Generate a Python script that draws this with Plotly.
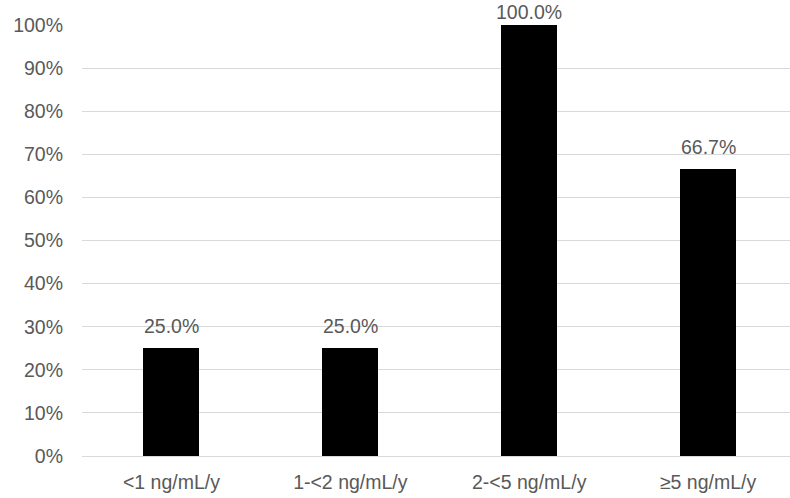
import plotly.graph_objects as go

categories = ["<1 ng/mL/y", "1-<2 ng/mL/y", "2-<5 ng/mL/y", "≥5 ng/mL/y"]
values = [25.0, 25.0, 100.0, 66.7]
y_ticks = [0, 10, 20, 30, 40, 50, 60, 70, 80, 90, 100]
y_tick_labels = [f"{v}%" for v in y_ticks]

FONT = "Arial, Liberation Sans, sans-serif"
GRAY = "#595959"

fig = go.Figure()
fig.add_trace(go.Bar(
    x=list(range(len(categories))),
    y=values,
    marker=dict(color="#000000", line=dict(width=0)),
    width=0.313,
    hoverinfo="skip",
))

for i, v in enumerate(values):
    fig.add_annotation(
        x=i, y=v, text=f"{v:.1f}%", showarrow=False,
        yanchor="bottom", yshift=(0 if v >= 95 else 9),
        font=dict(family=FONT, size=19.5, color=GRAY),
    )

fig.update_layout(
    width=790, height=498,
    margin=dict(l=82, r=0, t=25, b=42),
    paper_bgcolor="white", plot_bgcolor="white",
    showlegend=False,
    font=dict(family=FONT, size=19.5, color=GRAY),
    bargap=0,
)
fig.update_xaxes(
    tickmode="array", tickvals=list(range(len(categories))), ticktext=categories,
    range=[-0.5, 3.458], showgrid=False, zeroline=False,
    showline=False, ticks="", ticklabelstandoff=12,
    tickfont=dict(family=FONT, size=19.5, color=GRAY),
)
fig.update_yaxes(
    range=[0, 100], tickmode="array", tickvals=y_ticks, ticktext=y_tick_labels,
    showgrid=True, gridcolor="#d9d9d9", gridwidth=1.3,
    zeroline=True, zerolinecolor="#d9d9d9", zerolinewidth=1.3,
    showline=False, ticks="", ticklabelstandoff=18,
    tickfont=dict(family=FONT, size=19.5, color=GRAY),
)

fig.write_html("out.html", config={"displayModeBar": False})

# remove default page margin so the figure fills the window exactly
with open("out.html", "r", encoding="utf-8") as f:
    html = f.read()
html = html.replace("<body>", '<body style="margin:0;overflow:hidden">', 1)
with open("out.html", "w", encoding="utf-8") as f:
    f.write(html)
